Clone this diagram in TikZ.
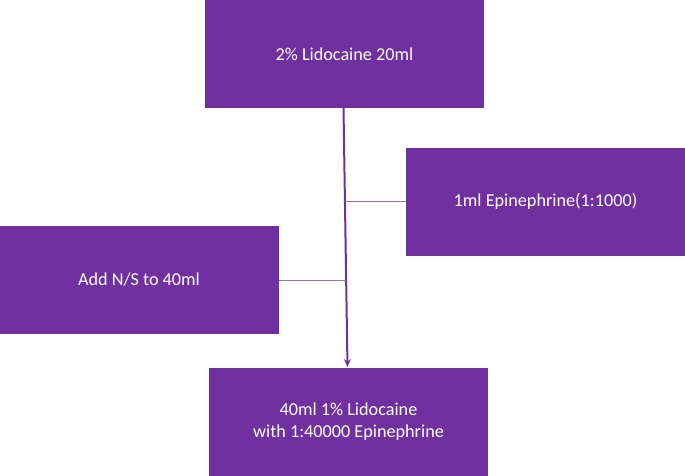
\documentclass[tikz,border=0pt]{standalone}
\usepackage{fontspec}
\setmainfont{Carlito}
\usetikzlibrary{calc, arrows.meta}
\definecolor{boxpurple}{HTML}{7030A0}
\tikzset{
  stepbox/.style={fill=boxpurple, draw=none, text=white, align=center,
    minimum width=279pt, minimum height=108pt, inner sep=0pt,
    font=\fontsize{18.2}{22.5}\selectfont},
  link/.style={draw=boxpurple!70, line width=0.6pt},
}
\begin{document}
\begin{tikzpicture}[x=1pt, y=-1pt]
        \useasboundingbox (0,0) rectangle (685,476);
        \node[stepbox] (lido) at (344.5,54) {2\% Lidocaine 20ml};
        \node[stepbox] (epi) at (545.5,201.5) {1ml Epinephrine(1:1000)};
        \node[stepbox] (ns) at (139,280) {Add N/S to 40ml};
        \node[stepbox] (mix) at (348.5,421.5) {40ml 1\% Lidocaine\\with 1:40000 Epinephrine};
        \coordinate (top) at (343.5,108);
        \coordinate (bot) at (347.5,367);
        \coordinate (j1) at ($(top)!0.359!(bot)$);
        \coordinate (j2) at ($(top)!0.664!(bot)$);
        \draw[boxpurple, line width=2pt, -{Stealth[length=8pt, width=7pt]}] (top) -- (bot);
        \draw[link] (epi.west |- j1) -- (j1);
        \draw[link] (ns.east |- j2) -- (j2);
      \end{tikzpicture}
\end{document}
